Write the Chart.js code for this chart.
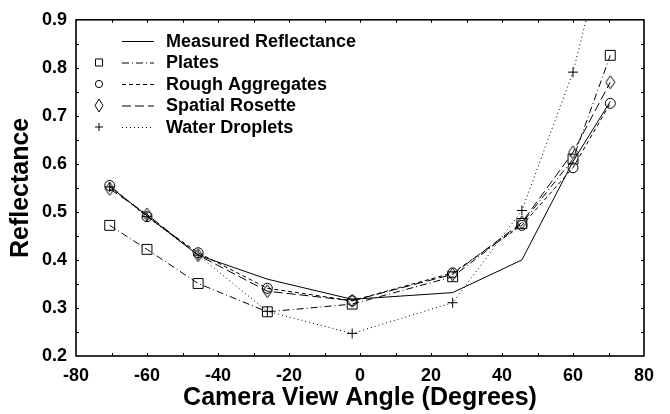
<!DOCTYPE html>
<html>
<head>
<meta charset="utf-8">
<script src="https://cdn.jsdelivr.net/npm/chart.js@4.4.1/dist/chart.umd.min.js"></script>
<style>
  html, body { margin: 0; padding: 0; background: #fff; }
</style>
</head>
<body>
<canvas id="chart" width="670" height="414"></canvas>
<script>
// camera view angles (degrees) and reflectance per model
const angles = [-70.5, -60, -45.6, -26.1, -2.2, 26.1, 45.6, 60, 70.5]
const measured = [0.553, 0.492, 0.410, 0.360, 0.318, 0.332, 0.400, 0.605, 0.730]
const plates = [0.472, 0.422, 0.351, 0.292, 0.308, 0.365, 0.476, 0.610, 0.826]
const roughAggregates = [0.555, 0.490, 0.415, 0.341, 0.315, 0.373, 0.472, 0.592, 0.726]
const spatialRosette = [0.548, 0.495, 0.410, 0.335, 0.315, 0.370, 0.478, 0.624, 0.770]
const waterDroplets = [0.552, 0.490, 0.410, 0.293, 0.247, 0.311, 0.503, 0.791, 1.100]

const xTicks = [-80, -60, -40, -20, 0, 20, 40, 60, 80]
const yTicks = [0.2, 0.3, 0.4, 0.5, 0.6, 0.7, 0.8, 0.9]

const FONT = "'Liberation Sans', Arial, Helvetica, sans-serif"

// tall diamond marker, Chart.js only has a square one
function diamond(w, h) {
    const c = document.createElement("canvas")
    c.width = w + 2
    c.height = h + 2
    const g = c.getContext("2d")
    g.strokeStyle = "#000"
    g.lineWidth = 1
    g.beginPath()
    g.moveTo(c.width / 2, 1)
    g.lineTo(c.width - 1, c.height / 2)
    g.lineTo(c.width / 2, c.height - 1)
    g.lineTo(1, c.height / 2)
    g.closePath()
    g.stroke()
    return c
}

const pts = ys => angles.map((a, i) => ({ x: a, y: ys[i] }))

function series(label, ys, dash, style, radius, legendStyle, legendRadius) {
    return {
        label: label,
        data: pts(ys),
        borderColor: "#000",
        backgroundColor: "rgba(0,0,0,0)",
        borderWidth: 1,
        borderDash: dash,
        pointStyle: style,
        pointRadius: style ? radius : 0,
        pointBorderWidth: 1,
        pointBorderColor: "#000",
        pointBackgroundColor: "rgba(0,0,0,0)",
        tension: 0,
        legendStyle: legendStyle,
        legendRadius: legendRadius,
    }
}

const datasets = [
    series("Measured Reflectance", measured, [], false, 0, false, 0),
    series("Plates", plates, [7, 3, 1, 3], "rect", 7, "rect", 5),
    series("Rough Aggregates", roughAggregates, [4, 3], "circle", 5, "circle", 3.6),
    series("Spatial Rosette", spatialRosette, [9, 4], diamond(9, 13), 6, diamond(8, 13), 0),
    series("Water Droplets", waterDroplets, [1, 3], "cross", 5, "cross", 4),
]

// box round the plot with short inward ticks on every side
const frame = {
    id: "frame",
    afterDatasetsDraw(chart) {
        const { ctx, chartArea: a, scales: { x, y } } = chart
        ctx.save()
        ctx.strokeStyle = "#000"
        ctx.lineWidth = 1
        ctx.setLineDash([])
        ctx.beginPath()
        for (let v = -70; v < 80; v += 10) {
            const px = Math.round(x.getPixelForValue(v)) + 0.5
            ctx.moveTo(px, a.bottom); ctx.lineTo(px, a.bottom - 3)
            ctx.moveTo(px, a.top); ctx.lineTo(px, a.top + 3)
        }
        for (let v = 0.25; v < 0.9; v += 0.05) {
            const py = Math.round(y.getPixelForValue(v)) + 0.5
            ctx.moveTo(a.left, py); ctx.lineTo(a.left + 3, py)
            ctx.moveTo(a.right, py); ctx.lineTo(a.right - 3, py)
        }
        ctx.stroke()
        ctx.lineWidth = 1.6
        ctx.strokeRect(a.left, a.top, a.width, a.height)
        ctx.restore()
    }
}

// legend: hollow marker, line sample, then the name
const legendBox = {
    id: "legendBox",
    afterDraw(chart) {
        const { ctx } = chart
        const rowY = [41, 62.5, 84, 105.5, 127]
        ctx.save()
        ctx.font = "bold 18px " + FONT
        ctx.textBaseline = "middle"
        chart.data.datasets.forEach((ds, i) => {
            const yy = rowY[i]
            ctx.strokeStyle = "#000"
            if (ds.legendStyle) {
                ctx.fillStyle = "rgba(0,0,0,0)"
                Chart.helpers.drawPoint(ctx, {
                    pointStyle: ds.legendStyle,
                    radius: ds.legendRadius,
                    borderWidth: 1,
                }, 99, yy)
            }
            ctx.lineWidth = 1
            ctx.setLineDash(ds.borderDash)
            ctx.beginPath()
            ctx.moveTo(122, yy + 0.5)
            ctx.lineTo(154, yy + 0.5)
            ctx.stroke()
            ctx.setLineDash([])
            ctx.fillStyle = "#000"
            ctx.fillText(ds.label, 166, yy + 1)
        })
        ctx.restore()
    }
}

new Chart(document.getElementById("chart"), {
    type: "line",
    data: { datasets: datasets },
    options: {
        responsive: false,
        animation: false,
        devicePixelRatio: 1,
        layout: { padding: { left: 0, right: 26, top: 16, bottom: 0 } },
        plugins: { legend: { display: false }, tooltip: { enabled: false } },
        scales: {
            x: {
                type: "linear",
                min: -80,
                max: 80,
                afterBuildTicks: s => { s.ticks = xTicks.map(v => ({ value: v })) },
                afterFit: s => { s.height = 58 },
                grid: { display: false, drawTicks: false },
                border: { display: false },
                ticks: {
                    color: "#000",
                    padding: 9,
                    maxRotation: 0,
                    font: { family: FONT, size: 18, weight: "bold" },
                    callback: v => String(v),
                },
                title: {
                    display: true,
                    text: "Camera View Angle (Degrees)",
                    color: "#000",
                    padding: { top: 0, bottom: 1 },
                    font: { family: FONT, size: 25, weight: "bold" },
                },
            },
            y: {
                min: 0.2,
                max: 0.9,
                afterBuildTicks: s => { s.ticks = yTicks.map(v => ({ value: v })) },
                afterFit: s => { s.width = 76 },
                grid: { display: false, drawTicks: false },
                border: { display: false },
                ticks: {
                    color: "#000",
                    padding: 9,
                    font: { family: FONT, size: 18, weight: "bold" },
                    callback: v => v.toFixed(1),
                },
                title: {
                    display: true,
                    text: "Reflectance",
                    color: "#000",
                    padding: { top: 6, bottom: 0 },
                    font: { family: FONT, size: 25, weight: "bold" },
                },
            },
        },
    },
    plugins: [frame, legendBox],
})
</script>
</body>
</html>
